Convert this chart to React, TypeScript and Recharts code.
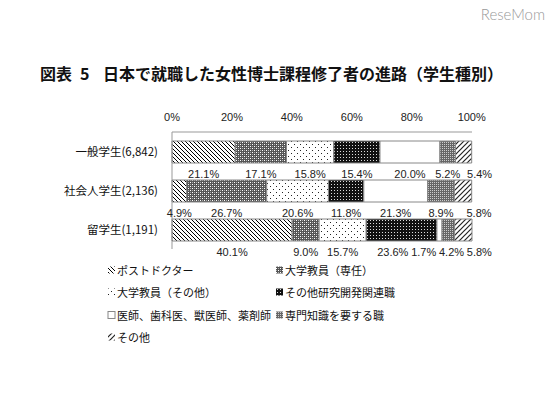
import React from "react";
import { BarChart, Bar, XAxis, YAxis, LabelList } from "recharts";

const categories = ["一般学生(6,842)", "社会人学生(2,136)", "留学生(1,191)"];
const seriesNames = [
  "ポストドクター",
  "大学教員（専任）",
  "大学教員（その他）",
  "その他研究開発関連職",
  "医師、歯科医、獣医師、薬剤師",
  "専門知識を要する職",
  "その他",
];
const postdoc = [21.1, 4.9, 40.1];
const faculty = [17.1, 26.7, 9.0];
const facultyOther = [15.8, 20.6, 15.7];
const research = [15.4, 11.8, 23.6];
const medical = [20.0, 21.3, 1.7];
const specialist = [5.2, 8.9, 4.2];
const other = [5.4, 5.8, 5.8];
const xTicks = [0, 20, 40, 60, 80, 100];

const seriesValues = [postdoc, faculty, facultyOther, research, medical, specialist, other];
const keys = ["s0", "s1", "s2", "s3", "s4", "s5", "s6"];
const patternIds = ["post", "fac", "facO", "res", "med", "spec", "oth"];

const data = categories.map((name, i) => {
  const row: Record<string, string | number> = { name };
  seriesValues.forEach((vals, s) => {
    row[keys[s]] = vals[i];
  });
  return row;
});

const fmt = (v: number) => `${v.toFixed(1)}%`;

// spread the labels of one row so they don't overlap (pixel offsets from segment centres)
const labelOffsets = (row: number, pxPerPct: number) => {
  const vals = seriesValues.map((s) => s[row]);
  const w = vals.map((v) => fmt(v).length * 6.2);
  let acc = 0;
  const base = vals.map((v) => {
    const c = (acc + v / 2) * pxPerPct;
    acc += v;
    return c;
  });
  const pos = base.slice();
  pos[pos.length - 1] += 16;
  for (let it = 0; it < 60; it++) {
    for (let i = 0; i < pos.length - 1; i++) {
      const need = (w[i] + w[i + 1]) / 2 + 3;
      const d = pos[i + 1] - pos[i];
      if (d < need) {
        const o = need - d;
        if (i + 1 === pos.length - 1) pos[i] -= o;
        else {
          pos[i] -= o / 2;
          pos[i + 1] += o / 2;
        }
      }
    }
  }
  return pos.map((p, i) => p - base[i]);
};

const Patterns = ({ p }: { p: string }) => (
  <defs>
    <pattern id={`${p}-post`} width="4" height="4" patternUnits="userSpaceOnUse">
      <rect width="4" height="4" fill="#fff" />
      <path d="M-1,-1 L5,5 M-1,3 L1,5 M3,-1 L5,1" stroke="#000" strokeWidth="1" />
    </pattern>
    <pattern id={`${p}-fac`} width="4" height="4" patternUnits="userSpaceOnUse">
      <rect width="4" height="4" fill="#555" />
      <rect x="0" y="0" width="1" height="1" fill="#fff" />
      <rect x="2" y="2" width="1" height="1" fill="#fff" />
      <rect x="2" y="0" width="1" height="1" fill="#aaa" />
      <rect x="0" y="2" width="1" height="1" fill="#aaa" />
    </pattern>
    <pattern id={`${p}-facO`} width="6" height="6" patternUnits="userSpaceOnUse">
      <rect width="6" height="6" fill="#fff" />
      <rect x="0" y="0" width="1" height="1" fill="#222" />
      <rect x="3" y="3" width="1" height="1" fill="#222" />
    </pattern>
    <pattern id={`${p}-res`} width="3" height="3" patternUnits="userSpaceOnUse">
      <rect width="3" height="3" fill="#111" />
      <rect x="1" y="1" width="1" height="1" fill="#ddd" />
    </pattern>
    <pattern id={`${p}-med`} width="4" height="4" patternUnits="userSpaceOnUse">
      <rect width="4" height="4" fill="#fff" />
    </pattern>
    <pattern id={`${p}-spec`} width="2" height="2" patternUnits="userSpaceOnUse">
      <rect width="2" height="2" fill="#666" />
      <rect x="0" y="0" width="1" height="1" fill="#ccc" />
    </pattern>
    <pattern id={`${p}-oth`} width="5" height="5" patternUnits="userSpaceOnUse">
      <rect width="5" height="5" fill="#fff" />
      <path d="M-1,6 L6,-1 M-1,1 L1,-1 M4,6 L6,4" stroke="#222" strokeWidth="1.2" />
    </pattern>
  </defs>
);

const makeLabel = (series: number) => (props: any) => {
  const { x, y, width, height, value, index } = props;
  const v = Number(value);
  const pxPerPct = v > 0 ? Number(width) / v : 3;
  const dx = labelOffsets(index, pxPerPct)[series];
  return (
    <text
      x={Number(x) + Number(width) / 2 + dx}
      y={Number(y) + Number(height) + 11}
      textAnchor="middle"
      dominantBaseline="central"
      fontSize={11}
      fontFamily="Liberation Sans, Arial, sans-serif"
      fill="#222"
    >
      {fmt(v)}
    </text>
  );
};

const legendPos = [
  [108, 270],
  [276, 270],
  [108, 292],
  [276, 292],
  [108, 315],
  [276, 315],
  [108, 337],
];

const jp = "'Noto Sans CJK JP', sans-serif";

export default function App() {
  return (
    <div style={{ position: "absolute", left: 0, top: 0, width: 557, height: 394, background: "#fff" }}>
      <svg width={557} height={394} style={{ position: "absolute", left: 0, top: 0 }}>
        <text x={545} y={20} textAnchor="end" fontSize={15} fill="#999" fontFamily="Lato, sans-serif" fontWeight={300}>
          ReseMom
        </text>
        <g fontFamily={jp} fontSize={16} fontWeight={700} fill="#111">
          <text x={40} y={80}>図表</text>
          <text x={80} y={80}>5</text>
          <text x={103} y={80}>日本で就職した女性博士課程修了者の進路（学生種別）</text>
        </g>
      </svg>
      <div style={{ position: "absolute", left: 0, top: 0 }}>
        <BarChart
          width={557}
          height={394}
          layout="vertical"
          data={data}
          margin={{ top: 112, right: 85, bottom: 145, left: 12 }}
          barSize={22}
        >
          <Patterns p="c" />
          <XAxis
            type="number"
            orientation="top"
            domain={[0, 100]}
            ticks={xTicks}
            tickFormatter={(v) => `${v}%`}
            height={20}
            axisLine={{ stroke: "#999" }}
            tickLine={false}
            tickSize={0}
            tickMargin={11}
            tick={{ fontSize: 11, fill: "#222", fontFamily: "Liberation Sans, Arial, sans-serif" }}
            interval={0}
          />
          <YAxis
            type="category"
            dataKey="name"
            width={160}
            axisLine={{ stroke: "#999" }}
            tickLine={false}
            tickSize={0}
            tickMargin={14}
            tick={{ fontSize: 11.5, fill: "#111", fontFamily: jp }}
          />
          {keys.map((k, s) => (
            <Bar
              key={k}
              dataKey={k}
              name={seriesNames[s]}
              stackId="a"
              fill={`url(#c-${patternIds[s]})`}
              stroke="#888"
              strokeWidth={1}
              isAnimationActive={false}
            >
              <LabelList dataKey={k} content={makeLabel(s)} />
            </Bar>
          ))}
        </BarChart>
      </div>
      <svg width={557} height={394} style={{ position: "absolute", left: 0, top: 0, pointerEvents: "none" }}>
        <Patterns p="l" />
        {seriesNames.map((n, s) => (
          <g key={n}>
            <rect
              x={legendPos[s][0]}
              y={legendPos[s][1] - 3.5}
              width={7}
              height={7}
              fill={`url(#l-${patternIds[s]})`}
              stroke={s === 4 ? "#888" : "none"}
            />
            <text
              x={legendPos[s][0] + 9}
              y={legendPos[s][1]}
              dominantBaseline="central"
              fontSize={11}
              fontFamily={jp}
              fill="#111"
            >
              {n}
            </text>
          </g>
        ))}
      </svg>
    </div>
  );
}
